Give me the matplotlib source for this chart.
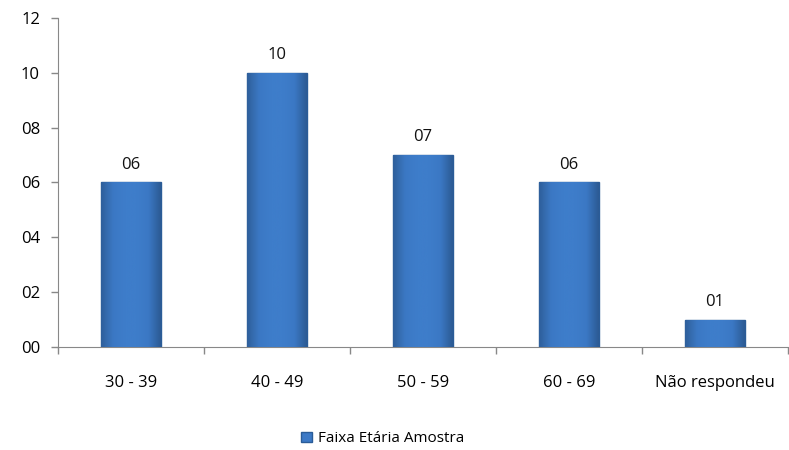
import numpy as np
import matplotlib.pyplot as plt
from matplotlib.ticker import FuncFormatter, FixedLocator
from matplotlib.colors import LinearSegmentedColormap

plt.rcParams['font.family'] = ['Open Sans', 'DejaVu Sans']

categories = ["30 - 39", "40 - 49", "50 - 59", "60 - 69", "Não respondeu"]
values = [6, 10, 7, 6, 1]
series_name = "Faixa Etária Amostra"

fig = plt.figure(figsize=(7.89, 4.5), dpi=100)
ax = fig.add_axes([0.0735, 0.229, 0.925, 0.731])

x = np.arange(len(categories))
bars = ax.bar(x, values, width=0.41, color='#3C79C6', edgecolor='#2A5C98',
              linewidth=1.0, label=series_name, zorder=3)

# shaded look: darker edges, lighter middle
cmap = LinearSegmentedColormap.from_list("bevel", ['#2F609C', '#3B78C4', '#3E7DCA', '#3E7DCA', '#3B78C4', '#2C5B95'])
grad = np.linspace(0, 1, 64).reshape(1, -1)
for b in bars:
    x0, w, h = b.get_x(), b.get_width(), b.get_height()
    im = ax.imshow(grad, cmap=cmap, extent=[x0, x0 + w, 0, h], aspect='auto', zorder=3.5)
    im.set_clip_path(b)

for xi, v in zip(x, values):
    ax.text(xi, v + 0.35, "%02d" % v, ha='center', va='bottom', fontsize=12, color='#111111')

ax.set_xlim(-0.5, len(categories) - 0.5)
ax.set_ylim(0, 12)
ax.set_yticks(np.arange(0, 13, 2))
ax.yaxis.set_major_formatter(FuncFormatter(lambda v, p: "%02d" % v))
ax.set_xticks(x)
ax.set_xticklabels(categories, fontsize=12)
ax.xaxis.set_minor_locator(FixedLocator(np.arange(-0.5, len(categories), 1.0)))
ax.tick_params(axis='x', which='major', length=0, pad=20)
ax.tick_params(axis='x', which='minor', length=5, color='#888888', width=1)
ax.tick_params(axis='y', length=5, color='#888888', width=1, labelsize=12, pad=8)

for s in ['top', 'right']:
    ax.spines[s].set_visible(False)
for s in ['left', 'bottom']:
    ax.spines[s].set_color('#888888')

ax.legend(loc='upper center', bbox_to_anchor=(0.445, -0.215), frameon=False,
          fontsize=11, handlelength=0.7, handleheight=0.7, handletextpad=0.4)

fig.savefig("out.png", dpi=100)
